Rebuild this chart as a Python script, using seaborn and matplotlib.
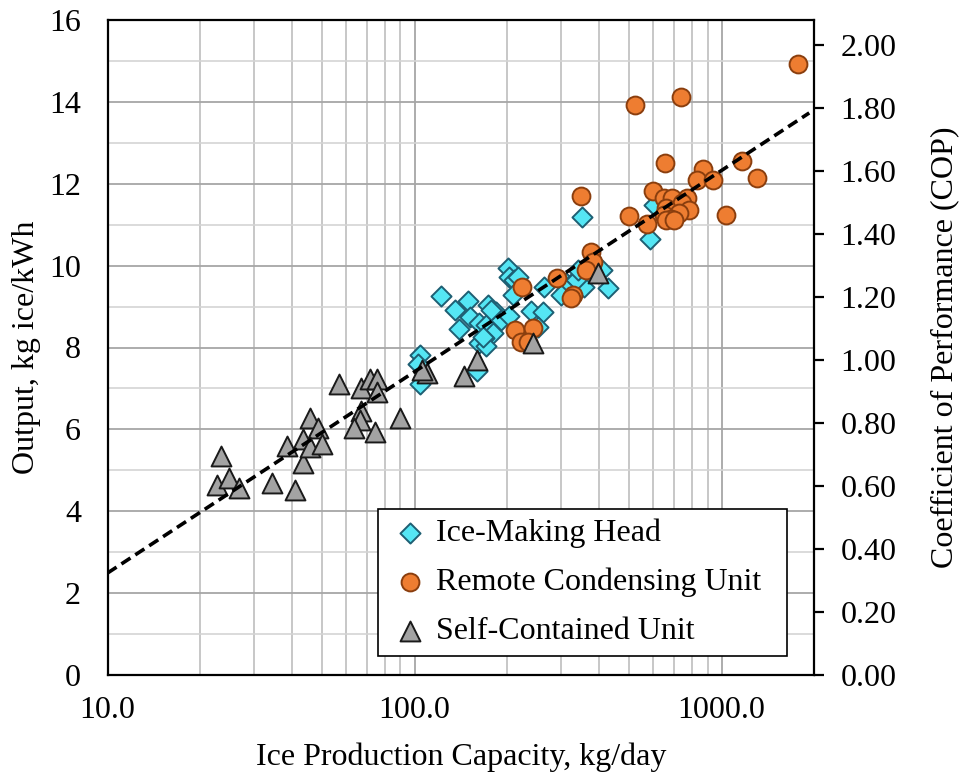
import numpy as np
import pandas as pd
import seaborn as sns
import matplotlib.pyplot as plt
from matplotlib.ticker import FixedLocator, FuncFormatter, MultipleLocator, NullFormatter

sns.set_style("white")
plt.rcParams['font.family'] = ['Liberation Serif', 'DejaVu Serif']
plt.rcParams['text.color'] = 'black'
plt.rcParams['axes.labelcolor'] = 'black'
plt.rcParams['xtick.color'] = 'black'
plt.rcParams['ytick.color'] = 'black'

# Ice-Making Head
imh_cap = [104.3, 102.5, 104.3, 122.2, 135.9, 149.8, 151.7, 140.0, 161.9, 173.2,
           184.3, 171.0, 179.8, 168.9, 161.9, 171.0, 159.5, 201.2, 203.7, 211.4,
           208.8, 191.4, 203.7, 264.8, 239.6, 262.8, 251.8, 311.4, 326.0, 351.0,
           603.0, 584.0, 425.4, 357.0, 335.7, 311.0, 409.0, 340.0, 300.0, 217.0,
           177.0, 166.6]
imh_out = [7.82, 7.60, 7.11, 9.26, 8.92, 9.14, 8.74, 8.44, 8.61, 9.04,
           8.87, 8.55, 8.35, 8.22, 8.10, 8.04, 7.43, 9.93, 9.73, 9.65,
           9.28, 8.67, 8.77, 9.48, 8.90, 8.87, 8.49, 9.57, 9.58, 11.19,
           11.48, 10.64, 9.45, 9.47, 9.65, 9.40, 9.89, 9.89, 9.28, 9.73,
           8.92, 8.26]

# Remote Condensing Unit
rcu_cap = [522, 736, 1778, 654, 871, 834, 940, 1169, 1308, 1036,
           596, 498, 571, 348, 650, 689, 774, 746, 658, 784,
           728, 650, 684, 658, 701, 376, 380, 362, 327, 323,
           292, 224, 213, 222, 242.5, 235]
rcu_out = [13.92, 14.13, 14.92, 12.50, 12.35, 12.09, 12.09, 12.56, 12.13, 11.24,
           11.83, 11.21, 11.02, 11.70, 11.64, 11.64, 11.64, 11.52, 11.40, 11.36,
           11.28, 11.24, 11.15, 11.11, 11.11, 10.34, 10.10, 9.89, 9.28, 9.20,
           9.69, 9.47, 8.43, 8.14, 8.47, 8.14]

# Self-Contained Unit
scu_cap = [23.5, 22.75, 24.9, 26.8, 34.4, 40.8, 38.3, 43.2, 43.2, 45.5,
           48.5, 45.5, 50.0, 56.6, 67.1, 66.4, 63.5, 74.5, 67.1, 71.4,
           75.4, 75.2, 89.8, 109.6, 106.0, 144.7, 159.5, 242.5, 394.5]
scu_out = [5.35, 4.64, 4.82, 4.58, 4.70, 4.52, 5.59, 5.76, 5.17, 6.29,
           6.03, 5.56, 5.64, 7.11, 6.46, 6.23, 6.03, 5.94, 7.00, 7.22,
           7.22, 6.92, 6.27, 7.37, 7.45, 7.30, 7.69, 8.12, 9.81]

# trend line (straight on log x)
trend_cap = [10, 1930]
trend_out = [2.49, 13.73]

cop_per_output = 0.13

fig = plt.figure(figsize=(9.6, 7.75), dpi=100)
ax = fig.add_axes([107.5 / 960, 1 - 675 / 775, 706.5 / 960, 655 / 775])

sns.scatterplot(x=imh_cap, y=imh_out, ax=ax, marker='D', s=105, color='#55E6F4',
                edgecolor='#1E5F73', linewidth=1.4, label='Ice-Making Head', zorder=3)
sns.scatterplot(x=rcu_cap, y=rcu_out, ax=ax, marker='o', s=165, color='#EE7D31',
                edgecolor='#8A3E0E', linewidth=1.4, label='Remote Condensing Unit', zorder=4)
sns.scatterplot(x=scu_cap, y=scu_out, ax=ax, marker='^', s=205, color='#A3A3A3',
                edgecolor='#1A1A1A', linewidth=1.4, label='Self-Contained Unit', zorder=5)
ax.plot(trend_cap, trend_out, color='black', lw=2.6, linestyle=(0, (3, 1.6)), zorder=6)

ax.set_xscale('log')
ax.set_xlim(10, 2000)
ax.set_ylim(0, 16)
ax.xaxis.set_major_locator(FixedLocator([10, 100, 1000]))
ax.xaxis.set_major_formatter(FuncFormatter(lambda v, p: f'{v:.1f}'))
ax.xaxis.set_minor_locator(FixedLocator([m * d for d in (10, 100, 1000) for m in range(2, 10) if m * d < 2000]))
ax.xaxis.set_minor_formatter(NullFormatter())
ax.yaxis.set_major_locator(MultipleLocator(2))
ax.yaxis.set_minor_locator(MultipleLocator(1))

ax.grid(True, which='major', color='#A6A6A6', lw=1.3)
ax.grid(True, which='minor', axis='x', color='#BDBDBD', lw=1.2)
ax.grid(True, which='minor', axis='y', color='#D4D4D4', lw=1.2)
ax.set_axisbelow(True)

ax.tick_params(which='both', length=0, labelsize=23)
ax.tick_params(axis='x', pad=15)
ax.tick_params(axis='y', pad=19)
for sp in ax.spines.values():
    sp.set_color('black')
    sp.set_linewidth(1.6)

ax.set_xlabel('Ice Production Capacity, kg/day', fontsize=23, labelpad=13)
ax.set_ylabel('Output, kg ice/kWh', fontsize=23, labelpad=6)

ax2 = ax.twinx()
ax2.set_ylim(0, 16 * cop_per_output)
ax2.yaxis.set_major_locator(MultipleLocator(0.2))
ax2.yaxis.set_major_formatter(FuncFormatter(lambda v, p: f'{v:.2f}'))
ax2.tick_params(axis='y', length=7, width=1.6, direction='out', labelsize=23, pad=12, color='black')
for sp in ax2.spines.values():
    sp.set_visible(False)
ax2.set_ylabel('Coefficient of Performance (COP)', fontsize=23, labelpad=24)
ax2.grid(False)

leg = ax.legend(loc='lower left', bbox_to_anchor=(0.383, 0.029, 0.579, 0.226), mode='expand',
                fontsize=23, frameon=True, fancybox=False, framealpha=1, edgecolor='black',
                handlelength=1.4, handletextpad=0.1, labelspacing=0.62, borderpad=0.3,
                borderaxespad=0)
leg.get_frame().set_linewidth(1.2)

fig.savefig('out.png', dpi=100)
